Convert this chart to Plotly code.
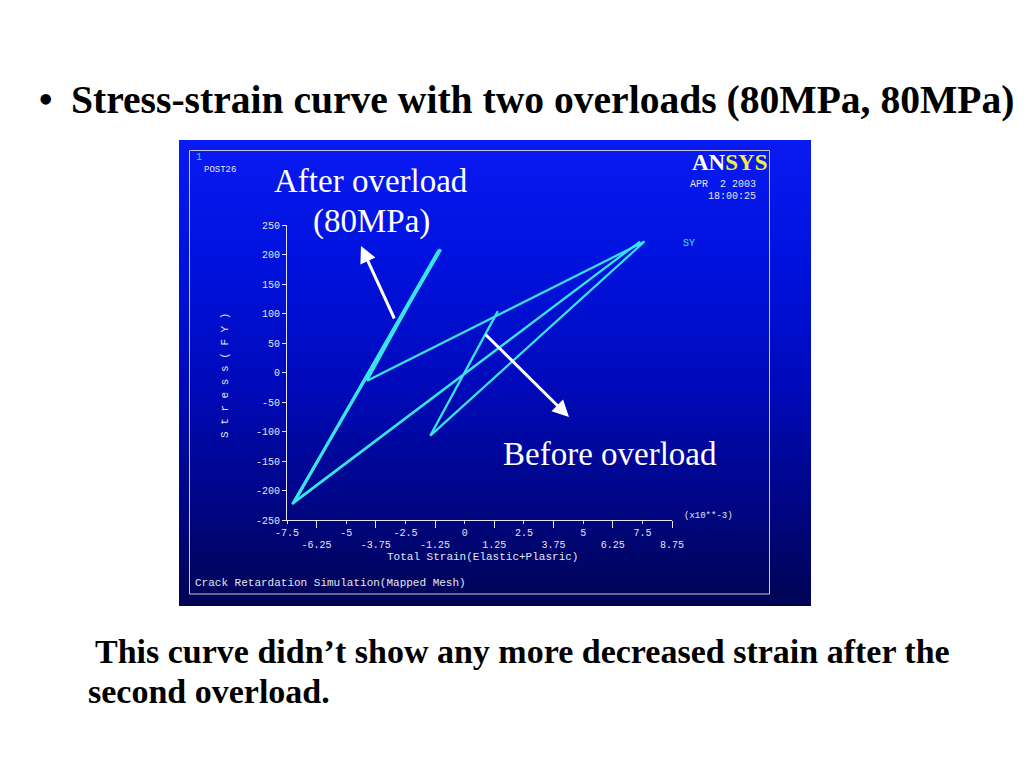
import plotly.graph_objects as go

# ---------------- data ----------------
# strain in units of 1e-3, stress in MPa
strain_before = [0.0, 1.40, -1.45, 1.40, -1.45]
stress_before = [0.0, 104, -107, 104, -107]

strain_overload1 = [-1.45, 7.59, -4.12]
stress_overload1 = [-107, 222, -14]

strain_after1 = [-4.12, -1.08, -7.25, -1.14, -7.20, -1.02, -7.28]
stress_after1 = [-14, 208, -222, 205, -220, 209, -223]

strain_overload2 = [-7.28, 7.40, -7.16]
stress_overload2 = [-223, 222, -218]

strain_after2 = [-7.16, -1.05, -7.26, -1.11, -7.22, -1.00, -7.24]
stress_after2 = [-218, 209, -222, 206, -221, 208, -222]

x_ticks_row1 = [-7.5, -5, -2.5, 0, 2.5, 5, 7.5]
x_ticks_row2 = [-6.25, -3.75, -1.25, 1.25, 3.75, 6.25, 8.75]
y_ticks = [-250, -200, -150, -100, -50, 0, 50, 100, 150, 200, 250]

# ---------------- layout geometry (page pixels) ----------------
W, H = 1024, 768
BODY = 8                      # browser default body margin
FW, FH = W - 2 * BODY, H - 2 * BODY
PL, PR, PT, PB = 287, 672, 225, 520


def xp(px):
    return (px - PL) / (PR - PL)


def yp(py):
    return (PB - py) / (PB - PT)


def fmt(v):
    return "%g" % v


CYAN = "#38e4f0"
LIGHT = "#e4e4ee"
MONO = "Liberation Mono"
SERIF = "Liberation Serif"

fig = go.Figure()

series = [
    (strain_before, stress_before),
    (strain_overload1, stress_overload1),
    (strain_after1, stress_after1),
    (strain_overload2, stress_overload2),
    (strain_after2, stress_after2),
]
for xs, ys in series:
    fig.add_trace(go.Scatter(x=xs, y=ys, mode="lines",
                             line=dict(color=CYAN, width=2.2),
                             showlegend=False, hoverinfo="skip"))

# dummy trace so that the second (label-only) x axis exists
fig.add_trace(go.Scatter(x=[None], y=[None], xaxis="x2", yaxis="y",
                         showlegend=False, hoverinfo="skip"))

# ---------------- background gradient (ANSYS window) ----------------
stops = [(140, (10, 26, 242)), (260, (0, 18, 222)), (380, (0, 10, 188)),
         (490, (0, 6, 138)), (606, (0, 4, 84))]


def grad(py):
    for (ya, ca), (yb, cb) in zip(stops[:-1], stops[1:]):
        if ya <= py <= yb:
            t = (py - ya) / (yb - ya)
            c = [round(a + (b - a) * t) for a, b in zip(ca, cb)]
            return "rgb(%d,%d,%d)" % tuple(c)
    return "rgb(%d,%d,%d)" % stops[-1][1]


shapes = []
step = 3
for y0 in range(140, 606, step):
    y1 = min(y0 + step, 606)
    shapes.append(dict(type="rect", xref="paper", yref="paper",
                       x0=xp(179), x1=xp(811), y0=yp(y1), y1=yp(y0),
                       fillcolor=grad(y0 + step / 2), line=dict(width=0),
                       layer="below"))
shapes.append(dict(type="rect", xref="paper", yref="paper",
                   x0=xp(189.5), x1=xp(769.5), y0=yp(594), y1=yp(150.5),
                   line=dict(color="#c8c8dc", width=1),
                   fillcolor="rgba(0,0,0,0)", layer="below"))

# ---------------- annotations ----------------
ann = []


def text(px, py, s, size, color, family=MONO, xanchor="left", angle=0, bold=False):
    ann.append(dict(xref="paper", yref="paper", x=xp(px), y=yp(py),
                    text=("<b>%s</b>" % s) if bold else s, showarrow=False,
                    xanchor=xanchor, yanchor="middle", textangle=angle,
                    font=dict(family=family, size=size, color=color)))


# slide text
text(45, 99, "•", 44, "black", SERIF, "center")
text(69, 100, "Stress-strain curve with two overloads (80MPa, 80MPa)", 39.6, "black", SERIF, "left", bold=True)
text(93, 651, "This curve didn\u2019t show any more decreased strain after the", 34, "black", SERIF, "left", bold=True)
text(86, 691, "second overload.", 34, "black", SERIF, "left", bold=True)

# ANSYS window texts
text(194, 157, "1", 10, "#40c8ff")
text(202, 170, "POST26", 9, LIGHT)
ann.append(dict(xref="paper", yref="paper", x=xp(769), y=yp(162),
                text="<b>AN<span style='color:#f0f03c'>SYS</span></b>",
                showarrow=False, xanchor="right", yanchor="middle",
                font=dict(family=SERIF, size=23, color="white")))
text(758, 184, "APR\u00a0\u00a02 2003", 10, LIGHT, xanchor="right")
text(758, 197, "18:00:25", 10, LIGHT, xanchor="right")
text(681, 243, "SY", 10, CYAN)
text(682, 516, "(x10**-3)", 9, LIGHT)
text(482, 557, "Total Strain(Elastic+Plasric)", 11, LIGHT, xanchor="center")
text(193, 583, "Crack Retardation Simulation(Mapped Mesh)", 11, LIGHT)
text(225, 376, "S t r e s s ( F Y )", 11, LIGHT, xanchor="center", angle=-90)

# slide callouts
text(371, 181, "After overload", 33, "white", SERIF, "center")
text(371, 222, "(80MPa)", 33, "white", SERIF, "center")
text(610, 454, "Before overload", 33, "white", SERIF, "center")

for tip, tail in [((361, 246), (395, 320)), ((569, 417), (484, 333))]:
    ann.append(dict(xref="paper", yref="paper", x=xp(tip[0]), y=yp(tip[1]),
                    ax=tail[0] - tip[0], ay=tail[1] - tip[1],
                    axref="pixel", ayref="pixel", text="", showarrow=True,
                    arrowhead=2, arrowsize=1.1, arrowwidth=3, arrowcolor="white"))

fig.update_layout(
    width=FW, height=FH, autosize=False,
    margin=dict(l=PL - BODY, r=FW - (PR - BODY), t=PT - BODY,
                b=FH - (PB - BODY), pad=0),
    paper_bgcolor="white", plot_bgcolor="rgba(0,0,0,0)",
    shapes=shapes, annotations=ann, showlegend=False,
    xaxis=dict(range=[-7.5, 8.75], showgrid=False, zeroline=False,
               showline=True, linecolor=LIGHT, linewidth=1,
               ticks="outside", ticklen=7, tickcolor=LIGHT, tickwidth=1,
               tickmode="array", tickvals=x_ticks_row2,
               ticktext=[fmt(v) for v in x_ticks_row2], tickangle=0,
               ticklabelstandoff=8,
               tickfont=dict(family=MONO, size=10, color=LIGHT)),
    xaxis2=dict(range=[-7.5, 8.75], overlaying="x", anchor="y", side="bottom",
                showgrid=False, zeroline=False, showline=False,
                ticks="outside", ticklen=3, tickcolor=LIGHT, tickwidth=1,
                tickmode="array", tickvals=x_ticks_row1,
                ticktext=[fmt(v) for v in x_ticks_row1], tickangle=0,
                tickfont=dict(family=MONO, size=10, color=LIGHT)),
    yaxis=dict(range=[-250, 250], showgrid=False, zeroline=False,
               showline=True, linecolor=LIGHT, linewidth=1,
               ticks="outside", ticklen=4, tickcolor=LIGHT, tickwidth=1,
               tickmode="array", tickvals=y_ticks,
               ticktext=[fmt(v) for v in y_ticks],
               tickfont=dict(family=MONO, size=10, color=LIGHT)),
)

fig.write_html("out.html")
